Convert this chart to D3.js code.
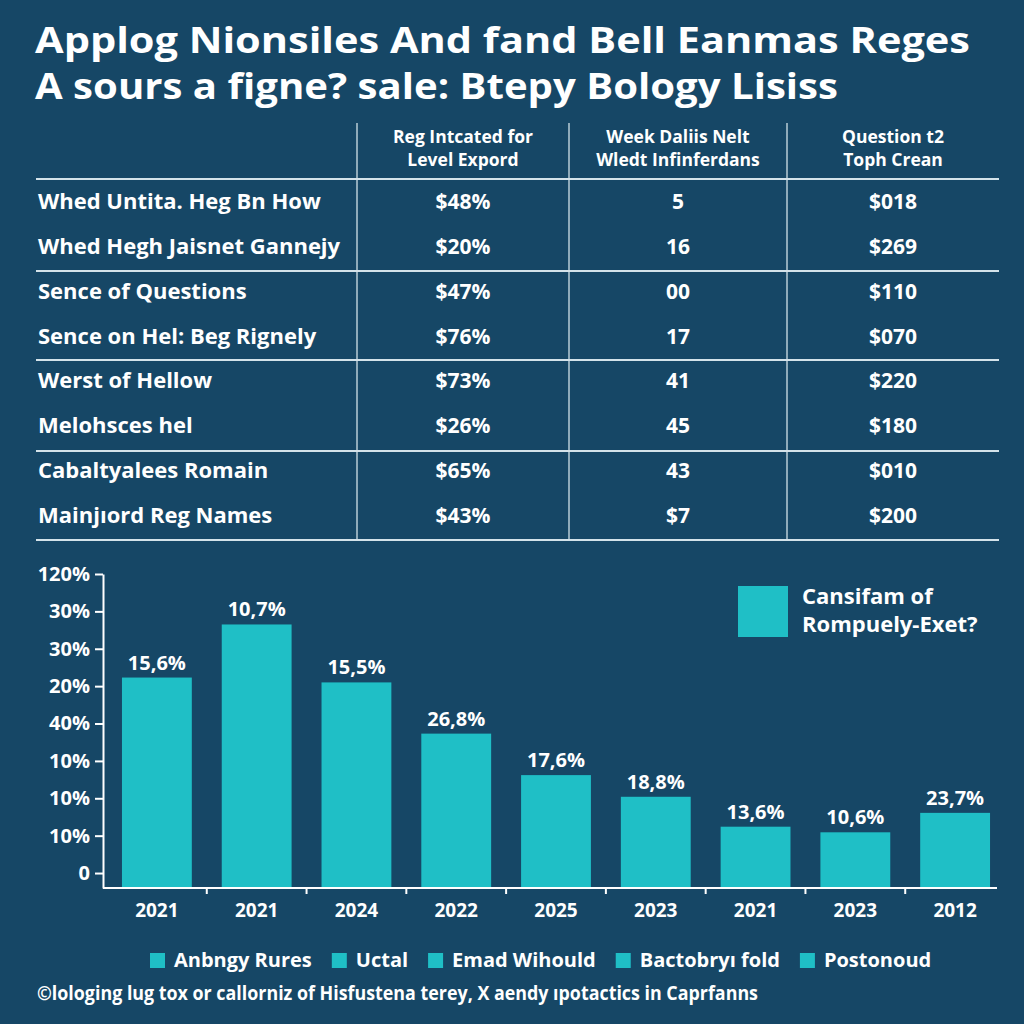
<!DOCTYPE html>
<html>
<head>
<meta charset="utf-8">
<script src="https://cdn.jsdelivr.net/npm/d3@7"></script>
<style>
  html, body { margin: 0; padding: 0; background: #164766; }
  svg { display: block; }
  text { font-family: "Open Sans", "Noto Sans", sans-serif; font-weight: 700; fill: #ffffff; }
</style>
</head>
<body>
<svg id="chart" width="1024" height="1024"></svg>
<script>
// ---------- data ----------
const titleLines = ["Applog Nionsiles And fand Bell Eanmas Reges", "A sours a figne? sale: Btepy Bology Lisiss"];

const tableHeaders = [
  ["Reg Intcated for", "Level Expord"],
  ["Week Daliis Nelt", "Wledt Infinferdans"],
  ["Question t2", "Toph Crean"]
];
const rowLabels = [
  "Whed Untita. Heg Bn How",
  "Whed Hegh Jaisnet Gannejy",
  "Sence of Questions",
  "Sence on Hel: Beg Rignely",
  "Werst of Hellow",
  "Melohsces hel",
  "Cabaltyalees Romain",
  "Mainjıord Reg Names"
];
const colA = ["$48%", "$20%", "$47%", "$76%", "$73%", "$26%", "$65%", "$43%"];
const colB = ["5", "16", "00", "17", "41", "45", "43", "$7"];
const colC = ["$018", "$269", "$110", "$070", "$220", "$180", "$010", "$200"];

const years = ["2021", "2021", "2024", "2022", "2025", "2023", "2021", "2023", "2012"];
const barValues = [5.23, 6.65, 5.10, 3.73, 2.62, 2.04, 1.24, 1.09, 1.61];
const barLabels = ["15,6%", "10,7%", "15,5%", "26,8%", "17,6%", "18,8%", "13,6%", "10,6%", "23,7%"];
const yTickLabels = ["0", "10%", "10%", "10%", "40%", "20%", "30%", "30%", "120%"];

const seriesLegend = ["Cansifam of", "Rompuely-Exet?"];
const bottomLegend = ["Anbngy Rures", "Uctal", "Emad Wihould", "Bactobryı fold", "Postonoud"];
const footerText = "©lologing lug tox or callorniz of Hisfustena terey, X aendy ıpotactics in Caprfanns";

// ---------- styles ----------
const BAR = "#1fbfc6";
const LINE = "#d4e3ea";

const svg = d3.select("#chart");

// ---------- title ----------
svg.append("g").selectAll("text").data(titleLines).join("text")
  .attr("x", 35)
  .attr("y", (d, i) => 53 + i * 46)
  .attr("font-size", 36)
  .attr("font-weight", 800)
  .attr("textLength", (d, i) => i === 0 ? 935 : 803)
  .attr("lengthAdjust", "spacingAndGlyphs")
  .text(d => d);

// ---------- table ----------
const table = svg.append("g");
const colX = d3.scaleOrdinal().domain([0, 1, 2]).range([463, 678, 893]);
const rowY = d3.scalePoint().domain(d3.range(rowLabels.length)).range([201, 515]);

// vertical separators
table.selectAll("line.v").data([357, 569, 787]).join("line")
  .attr("x1", d => d).attr("x2", d => d)
  .attr("y1", 123).attr("y2", 540)
  .attr("stroke", "#b9cdd7").attr("stroke-width", 1.5);

// horizontal separators
table.selectAll("line.h").data([179, 271, 360, 451, 540]).join("line")
  .attr("x1", 36).attr("x2", 999)
  .attr("y1", d => d).attr("y2", d => d)
  .attr("stroke", LINE).attr("stroke-width", 2);

// headers
tableHeaders.forEach((h, ci) => {
  table.append("g").selectAll("text").data(h).join("text")
    .attr("x", colX(ci))
    .attr("y", (d, i) => 143 + i * 23)
    .attr("text-anchor", "middle")
    .attr("font-size", 17.5)
    .text(d => d);
});

// row labels
table.append("g").selectAll("text").data(rowLabels).join("text")
  .attr("x", 38)
  .attr("y", (d, i) => rowY(i) + 8)
  .attr("font-size", 22)
  .text(d => d);

[colA, colB, colC].forEach((col, ci) => {
  table.append("g").selectAll("text").data(col).join("text")
    .attr("x", colX(ci))
    .attr("y", (d, i) => rowY(i) + 8)
    .attr("text-anchor", "middle")
    .attr("font-size", 21)
    .text(d => d);
});

// ---------- bar chart ----------
const x = d3.scaleBand().domain(d3.range(years.length)).range([107, 1005])
  .paddingInner(0.3).paddingOuter(0.15);
const yMin = -0.4;
const y = d3.scaleLinear().domain([yMin, 8]).range([888, 574]);

const chart = svg.append("g");

chart.selectAll("rect").data(barValues).join("rect")
  .attr("x", (d, i) => x(i))
  .attr("width", x.bandwidth())
  .attr("y", d => y(d))
  .attr("height", d => y(yMin) - y(d))
  .attr("fill", BAR);

chart.append("g").selectAll("text").data(barValues).join("text")
  .attr("x", (d, i) => x(i) + x.bandwidth() / 2)
  .attr("y", d => y(d) - 8)
  .attr("text-anchor", "middle")
  .attr("font-size", 20)
  .text((d, i) => barLabels[i]);

// y axis
const yAxis = d3.axisLeft(y)
  .tickValues(d3.range(yTickLabels.length))
  .tickFormat(i => yTickLabels[i])
  .tickSize(8).tickSizeOuter(0).tickPadding(5);
const yg = chart.append("g").attr("transform", "translate(103,0)").call(yAxis);
yg.select(".domain").attr("stroke", "#ffffff").attr("stroke-width", 2);
yg.selectAll(".tick line").attr("stroke", "#ffffff").attr("stroke-width", 2);
yg.selectAll(".tick text").attr("font-size", 20).attr("fill", "#ffffff")
  .attr("font-family", "Open Sans, sans-serif").attr("font-weight", 700);

// x axis
const step = x.step();
chart.append("line")
  .attr("x1", 103).attr("x2", 997)
  .attr("y1", y(yMin)).attr("y2", y(yMin))
  .attr("stroke", "#ffffff").attr("stroke-width", 2);
chart.append("g").selectAll("line").data(d3.range(1, years.length)).join("line")
  .attr("x1", i => x(i) - step * x.paddingInner() / 2)
  .attr("x2", i => x(i) - step * x.paddingInner() / 2)
  .attr("y1", y(yMin)).attr("y2", y(yMin) + 6)
  .attr("stroke", "#ffffff").attr("stroke-width", 2);
chart.append("g").selectAll("text").data(years).join("text")
  .attr("x", (d, i) => x(i) + x.bandwidth() / 2)
  .attr("y", 917)
  .attr("text-anchor", "middle")
  .attr("font-size", 19)
  .text(d => d);

// series legend (top right)
chart.append("rect").attr("x", 738).attr("y", 586).attr("width", 50).attr("height", 51).attr("fill", BAR);
chart.append("g").selectAll("text").data(seriesLegend).join("text")
  .attr("x", 802)
  .attr("y", (d, i) => 604 + i * 28)
  .attr("font-size", 22)
  .text(d => d);

// bottom legend
const leg = svg.append("g");
let lx = 150;
bottomLegend.forEach(name => {
  leg.append("rect").attr("x", lx).attr("y", 953).attr("width", 15).attr("height", 15).attr("fill", BAR);
  const t = leg.append("text").attr("x", lx + 24).attr("y", 967).attr("font-size", 20).text(name);
  lx += 24 + t.node().getComputedTextLength() + 20;
});

// footer
svg.append("text")
  .attr("x", 37).attr("y", 1000)
  .attr("font-size", 19).attr("font-weight", 600)
  .attr("textLength", 721).attr("lengthAdjust", "spacingAndGlyphs")
  .text(footerText);
</script>
</body>
</html>
